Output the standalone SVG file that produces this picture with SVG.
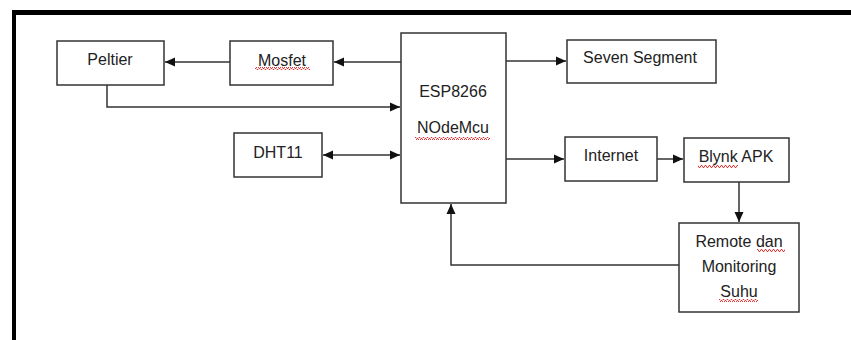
<svg xmlns="http://www.w3.org/2000/svg" width="851" height="340" viewBox="0 0 851 340">
<style>
.box{fill:#fff;stroke:#333;stroke-width:1.5}
.lbl{font-family:"Liberation Sans",Arial,sans-serif;font-size:16px;fill:#222;text-anchor:middle}
.ln{fill:none;stroke:#333;stroke-width:1.5}
.sq{fill:url(#wavy)}
</style>
<defs>
<marker id="ah" markerUnits="userSpaceOnUse" markerWidth="10" markerHeight="10" viewBox="0 0 10 10" refX="10" refY="5" orient="auto-start-reverse">
<path d="M0,0.5 L10,5 L0,9.5 Z" fill="#111"/>
</marker>
<pattern id="wavy" patternUnits="userSpaceOnUse" width="4" height="3">
<polyline points="0,2.5 1,0.5 2,0.5 3,2.5 4,2.5" fill="none" stroke="#e02020" stroke-width="0.9"/>
</pattern>
</defs>
<rect width="851" height="340" fill="#fff"/>
<g id="frame">
<line x1="14" y1="12.5" x2="851" y2="12.5" stroke="#000" stroke-width="5"/>
<line x1="14" y1="10" x2="14" y2="340" stroke="#000" stroke-width="4"/>
</g>
<g id="connectors">
<line class="ln" x1="401" y1="62" x2="334" y2="62" marker-end="url(#ah)"/>
<line class="ln" x1="230" y1="62" x2="165" y2="62" marker-end="url(#ah)"/>
<polyline class="ln" points="107,85 107,107 400,107" marker-end="url(#ah)"/>
<line class="ln" x1="506" y1="61" x2="566" y2="61" marker-end="url(#ah)"/>
<line class="ln" x1="323" y1="155" x2="400" y2="155" marker-start="url(#ah)" marker-end="url(#ah)"/>
<line class="ln" x1="506" y1="159" x2="564" y2="159" marker-end="url(#ah)"/>
<line class="ln" x1="657" y1="159" x2="683" y2="159" marker-end="url(#ah)"/>
<line class="ln" x1="739" y1="182" x2="739" y2="222" marker-end="url(#ah)"/>
<polyline class="ln" points="679,265 451,265 451,204" marker-end="url(#ah)"/>
</g>
<g id="peltier">
<rect class="box" x="57" y="41" width="107" height="44"/>
<text class="lbl" x="110" y="65">Peltier</text>
</g>
<g id="mosfet">
<rect class="box" x="230" y="41" width="103" height="44"/>
<text class="lbl" x="282" y="66">Mosfet</text>
<rect class="sq" x="255" y="67" width="55" height="3"/>
</g>
<g id="esp">
<rect class="box" x="401" y="33" width="105" height="170"/>
<text class="lbl" x="453" y="97">ESP8266</text>
<text class="lbl" x="453" y="133">NOdeMcu</text>
<rect class="sq" x="415" y="137" width="75" height="3"/>
</g>
<g id="seven">
<rect class="box" x="567" y="40" width="149" height="43"/>
<text class="lbl" x="640" y="63">Seven Segment</text>
</g>
<g id="dht">
<rect class="box" x="234" y="133" width="88" height="44"/>
<text class="lbl" x="278" y="158">DHT11</text>
</g>
<g id="internet">
<rect class="box" x="565" y="137" width="92" height="44"/>
<text class="lbl" x="611" y="161">Internet</text>
</g>
<g id="blynk">
<rect class="box" x="684" y="138" width="105" height="44"/>
<text class="lbl" x="736" y="162">Blynk APK</text>
<rect class="sq" x="698" y="165" width="40" height="3"/>
</g>
<g id="remote">
<rect class="box" x="679" y="223" width="120" height="89"/>
<text class="lbl" x="739" y="247">Remote dan</text>
<text class="lbl" x="739" y="272">Monitoring</text>
<text class="lbl" x="739" y="297">Suhu</text>
<rect class="sq" x="757" y="249" width="28" height="3"/>
<rect class="sq" x="719" y="299" width="39" height="3"/>
</g>
</svg>
